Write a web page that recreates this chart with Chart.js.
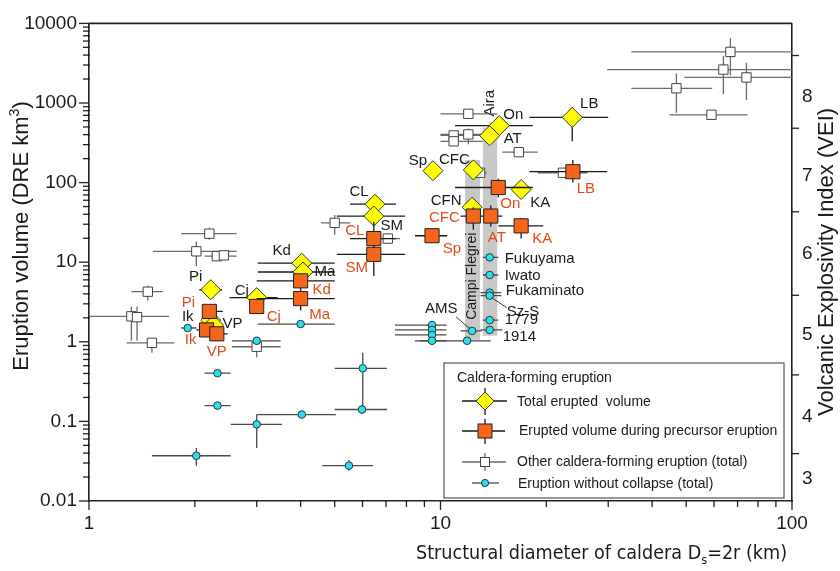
<!DOCTYPE html>
<html>
<head>
<meta charset="utf-8">
<script src="https://cdn.jsdelivr.net/npm/chart.js@4.4.1/dist/chart.umd.min.js"></script>
<style>
  html, body { margin: 0; padding: 0; background: #fff; }
  #wrap { width: 840px; height: 571px; position: relative; }
</style>
</head>
<body>
<div id="wrap"><canvas id="chart"></canvas></div>
<script>
// ---- axes ----
const xMin = 1, xMax = 100;
const yMin = 0.01, yMax = 10000;
const xTicks = [1, 10, 100];
const xTickLabels = ['1', '10', '100'];
const yTicks = [0.01, 0.1, 1, 10, 100, 1000, 10000];
const yTickLabels = ['0.01', '0.1', '1', '10', '100', '1000', '10000'];
// VEI scale on the right (volume where each class label sits, and class limits)
const veiLabels = ['3', '4', '5', '6', '7', '8'];
const veiLabelAt = [0.0192, 0.115, 1.22, 12.6, 122, 1210];
const veiBounds = [0.0394, 0.384, 3.84, 43, 482, 3948];

// ---- caldera-forming eruption, total erupted volume (yellow diamonds) ----
const totalNames = ['LB', 'On', 'AT', 'Sp', 'CFC', 'KA', 'CFN', 'CL', 'SM', 'Kd', 'Ma', 'Cj', 'Pi', 'Ik', 'VP'];
const totalD   = [23.7, 14.7, 13.8, 9.52, 12.4, 16.96, 12.3, 6.51, 6.46, 4.03, 4.06, 3.0, 2.22, 2.22, 2.26];
const totalV   = [659, 520, 388, 141, 144.5, 82, 49.1, 53.5, 38.0, 9.72, 7.53, 3.59, 4.51, 1.87, 1.62];
const totalDLo = [17.9, 11.0, null, null, null, null, null, 5.53, 5.07, 3.02, 3.02, 2.51, 2.06, null, null];
const totalDHi = [30.0, 18.3, null, null, null, null, null, 7.47, 7.93, 5.0, 5.0, 3.44, 2.39, null, null];
const totalVLo = [330, null, null, null, null, null, null, null, null, null, null, null, null, null, null];
const totalVHi = [875, null, null, null, null, null, null, null, null, null, null, null, null, null, null];

// ---- erupted volume during precursor eruption (orange squares) ----
const precNames = ['LB', 'On', 'AT', 'CFC', 'KA', 'Sp', 'CL', 'SM', 'Kd', 'Ma', 'Cj', 'Pi', 'Ik', 'VP'];
const precD   = [23.8, 14.6, 13.9, 12.4, 16.96, 9.46, 6.46, 6.46, 4.0, 4.0, 3.0, 2.20, 2.16, 2.31];
const precV   = [137, 86.8, 38.0, 38.0, 28.6, 21.5, 19.8, 12.55, 5.83, 3.49, 2.78, 2.41, 1.41, 1.26];
const precDLo = [17.9, 11.0, 13.6, 11.4, 14.6, 8.46, 5.53, 5.07, 3.0, 3.0, null, 2.11, 2.02, 2.11];
const precDHi = [29.8, 18.3, 15.0, 13.6, 19.6, 10.45, 7.47, 7.93, 5.0, 5.0, null, 2.40, 2.40, 2.48];
const precVLo = [100, 65.3, 27.8, 25.5, 19.8, null, 12.6, 6.7, null, 2.48, null, null, null, null];
const precVHi = [192, 112, 52, 49, 36, null, 32, 19.8, null, 5.83, null, null, null, null];

// ---- other caldera-forming eruptions, total (white squares) ----
const otherD   = [66.8, 63.8, 74.2, 46.9, 59.0, 12.0, 10.9, 10.9, 12.0, 16.7, 12.96, 22.3, 5.0, 7.08, 2.20, 2.02, 2.31, 2.42, 1.47, 1.32, 1.37, 1.51, 3.0];
const otherV   = [4385, 2630, 2094, 1531, 711, 731, 391, 330, 403, 241, 133, 133, 31.2, 19.8, 22.8, 13.7, 11.9, 12.2, 4.26, 2.09, 2.04, 0.97, 0.867];
const otherDLo = [34.9, 29.8, 49.4, 34.9, 44.8, 10.0, 10.0, 10.0, 10.0, 15.0, 12.6, 18.9, 4.57, 6.72, 1.83, 1.52, 2.13, null, 1.32, 1.0, null, 1.28, 2.55];
const otherDHi = [100, 100, 100, 59.3, 74.7, 14.5, 13.2, 13.2, 13.2, 18.9, 13.5, 26.2, 5.53, 7.67, 2.63, 2.63, 2.63, null, 1.62, 1.69, null, 1.75, 3.51];
const otherVLo = [2217, 1291, 1089, 753, null, null, null, null, 303, null, null, null, 22.2, 17, 19.2, 8.93, null, null, 3.30, 1.03, 1.03, 0.73, 0.634];
const otherVHi = [6530, 3916, 3206, 2344, null, null, null, null, 477, null, null, null, 39.1, 23, 27, 18.2, null, null, 5.06, 2.78, 2.78, 1.06, 0.867];

// ---- eruptions without collapse, total (cyan circles) ----
const noColNames = ['Fukuyama', 'Iwato', 'Fukaminato', 'Sz-S', '1779', '1914', 'AMS', '', '', '', '', '', '', '', '', '', '', '', '', '', '', '', ''];
const noColD   = [13.8, 13.8, 13.8, 13.8, 13.8, 13.8, 12.3, 11.9, 9.46, 9.46, 9.46, 9.46, 1.91, 3.0, 4.0, 2.32, 2.32, 6.01, 5.98, 4.03, 3.0, 2.02, 5.49];
const noColV   = [11.5, 6.91, 4.14, 3.80, 1.87, 1.41, 1.37, 1.03, 1.62, 1.41, 1.22, 1.03, 1.49, 1.03, 1.67, 0.403, 0.158, 0.464, 0.141, 0.122, 0.0918, 0.037, 0.0278];
const noColDLo = [13.2, 13.2, 13.0, 13.0, 13.2, 13.0, 11.4, 8.74, 7.42, 7.42, 7.42, 8.45, 1.83, 2.55, 3.02, 2.13, 2.13, 5.0, 5.0, 3.0, 2.53, 1.51, 4.6];
const noColDHi = [14.6, 14.6, 14.9, 14.9, 14.6, 15.0, 13.1, 13.9, 10.4, 10.4, 10.4, 10.4, 2.02, 3.51, 5.0, 2.53, 2.53, 7.04, 7.04, 5.04, 3.54, 2.53, 6.42];
const noColVLo = [null, null, null, null, null, null, null, null, null, null, null, null, null, null, null, 0.37, null, 0.141, 0.125, 0.11, 0.0464, 0.0278, 0.024];
const noColVHi = [null, null, null, null, null, null, null, null, null, null, null, null, null, null, null, 0.44, null, 0.73, 0.16, 0.135, 0.122, 0.0464, 0.033];

// ---- shaded diameter ranges ----
const bandNames = ['Campi Flegrei', 'Aira'];
const bandDLo = [11.75, 13.2];
const bandDHi = [12.96, 14.5];
const bandVLo = [1.06, 1.19];
const bandVHi = [192, 491];

// label offsets in px from the marker (layout only)
const totalLabelPos = { LB: [17, -14], On: [14, -11], AT: [23, 3], Sp: [-15, -10], CFC: [-19, -10], KA: [19, 13], CFN: [-26, -6],
  CL: [-16, -12], SM: [18, 10], Kd: [-20, -12], Ma: [22, 0], Cj: [-15, -7], Pi: [-15, -13], Ik: [-23, -3], VP: [19, -1] };
const precLabelPos = { LB: [13, 17], On: [12, 16], AT: [6, 22], CFC: [-29, 2], KA: [21, 13], Sp: [20, 13], CL: [-19, -8],
  SM: [-17, 14], Kd: [21, 9], Ma: [19, 16], Cj: [17, 10], Pi: [-21, -9], Ik: [-16, 10], VP: [0, 18] };
const noColLabelPos = { Fukuyama: [15, 1], Iwato: [15, 1], Fukaminato: [16, -2], 'Sz-S': [17, 16], '1779': [15, 0], '1914': [13, 7], AMS: [-47, -22] };

const FONT = "'Liberation Sans', Arial, Helvetica, sans-serif";
const RED = '#e2491c';
const INK = '#1a1a1a';

function pts(xs, ys) {
  return xs.map((x, i) => ({ x: x, y: ys[i] }));
}

// error bar sets, indexed like the datasets
const errSets = [
  { D: precD, V: precV, dLo: precDLo, dHi: precDHi, vLo: precVLo, vHi: precVHi, color: '#1a1a1a' },
  { D: totalD, V: totalV, dLo: totalDLo, dHi: totalDHi, vLo: totalVLo, vHi: totalVHi, color: '#1a1a1a' },
  { D: noColD, V: noColV, dLo: noColDLo, dHi: noColDHi, vLo: noColVLo, vHi: noColVHi, color: '#4a4a4a' },
  { D: otherD, V: otherV, dLo: otherDLo, dHi: otherDHi, vLo: otherVLo, vHi: otherVHi, color: '#6a6a6a' }
];

function line(ctx, x1, y1, x2, y2) {
  ctx.beginPath();
  ctx.moveTo(x1, y1);
  ctx.lineTo(x2, y2);
  ctx.stroke();
}

function diamond(ctx, x, y, r, fill) {
  ctx.beginPath();
  ctx.moveTo(x, y - r); ctx.lineTo(x + r, y); ctx.lineTo(x, y + r); ctx.lineTo(x - r, y);
  ctx.closePath();
  ctx.fillStyle = fill; ctx.fill();
  ctx.strokeStyle = '#333'; ctx.lineWidth = 1; ctx.stroke();
}

function square(ctx, x, y, h, fill, stroke) {
  ctx.fillStyle = fill; ctx.fillRect(x - h, y - h, 2 * h, 2 * h);
  ctx.strokeStyle = stroke; ctx.lineWidth = 1; ctx.strokeRect(x - h, y - h, 2 * h, 2 * h);
}

function dot(ctx, x, y, r) {
  ctx.beginPath(); ctx.arc(x, y, r, 0, Math.PI * 2);
  ctx.fillStyle = '#22e3ee'; ctx.fill();
  ctx.strokeStyle = '#333'; ctx.lineWidth = 1; ctx.stroke();
}

const extras = {
  id: 'extras',
  beforeDatasetsDraw(chart) {
    const { ctx, scales: { x, y } } = chart;
    ctx.save();
    bandNames.forEach((name, i) => {
      const l = x.getPixelForValue(bandDLo[i]), r = x.getPixelForValue(bandDHi[i]);
      const t = y.getPixelForValue(bandVHi[i]), b = y.getPixelForValue(bandVLo[i]);
      ctx.fillStyle = '#c8c8c8';
      ctx.fillRect(l, t, r - l, b - t);
      ctx.save();
      ctx.fillStyle = INK;
      ctx.font = '14px ' + FONT;
      ctx.textBaseline = 'middle';
      ctx.textAlign = 'left';
      if (i === 0) {
        ctx.translate((l + r) / 2, b - 20);
      } else {
        ctx.translate((l + r) / 2, t - 11);
        ctx.font = '15px ' + FONT;
      }
      ctx.rotate(-Math.PI / 2);
      ctx.fillText(name, 0, 0);
      ctx.restore();
    });
    ctx.restore();
  },
  beforeDatasetDraw(chart, args) {
    const s = errSets[args.index];
    if (!s) return;
    const { ctx, chartArea: a, scales: { x, y } } = chart;
    ctx.save();
    ctx.beginPath();
    ctx.rect(a.left, a.top, a.right - a.left, a.bottom - a.top);
    ctx.clip();
    ctx.strokeStyle = s.color;
    ctx.lineWidth = 1.3;
    s.D.forEach((d, i) => {
      const px = x.getPixelForValue(d), py = y.getPixelForValue(s.V[i]);
      if (s.dLo[i] != null) {
        line(ctx, x.getPixelForValue(s.dLo[i]), py, x.getPixelForValue(s.dHi[i]), py);
      }
      if (s.vLo[i] != null) {
        const hi = s.vHi[i] != null ? s.vHi[i] : s.V[i];
        line(ctx, px, y.getPixelForValue(s.vLo[i]), px, y.getPixelForValue(hi));
      }
    });
    ctx.restore();
  },
  afterDatasetsDraw(chart) {
    const { ctx, chartArea: a, scales: { x, y } } = chart;
    ctx.save();
    ctx.textBaseline = 'middle';
    ctx.font = '15px ' + FONT;

    // point labels
    ctx.textAlign = 'center';
    ctx.fillStyle = INK;
    totalNames.forEach((n, i) => {
      const o = totalLabelPos[n];
      ctx.fillText(n, x.getPixelForValue(totalD[i]) + o[0], y.getPixelForValue(totalV[i]) + o[1]);
    });
    ctx.fillStyle = RED;
    precNames.forEach((n, i) => {
      const o = precLabelPos[n];
      ctx.fillText(n, x.getPixelForValue(precD[i]) + o[0], y.getPixelForValue(precV[i]) + o[1]);
    });
    ctx.textAlign = 'left';
    ctx.fillStyle = INK;
    ctx.strokeStyle = '#333';
    ctx.lineWidth = 1;
    noColNames.forEach((n, i) => {
      if (!n) return;
      const o = noColLabelPos[n];
      const px = x.getPixelForValue(noColD[i]), py = y.getPixelForValue(noColV[i]);
      ctx.fillText(n, px + o[0], py + o[1]);
      if (n === 'Sz-S') line(ctx, px + 2, py + 2, px + 17, py + 12);
      if (n === 'AMS') line(ctx, px - 2, py - 2, px - 16, py - 14);
    });

    // top frame line
    ctx.strokeStyle = '#222';
    ctx.lineWidth = 1.6;
    line(ctx, a.left, a.top, a.right, a.top);

    // tick marks
    ctx.lineWidth = 1.3;
    for (let e = -2; e <= 4; e++) {
      const py = y.getPixelForValue(Math.pow(10, e));
      line(ctx, a.left - 10, py, a.left, py);
      if (e < 4) {
        for (let m = 2; m <= 9; m++) {
          const pm = y.getPixelForValue(m * Math.pow(10, e));
          line(ctx, a.left - 6, pm, a.left + 1, pm);
        }
      }
    }
    for (let e = 0; e <= 2; e++) {
      const px = x.getPixelForValue(Math.pow(10, e));
      line(ctx, px, a.bottom, px, a.bottom + 9);
      if (e < 2) {
        for (let m = 2; m <= 9; m++) {
          const pm = x.getPixelForValue(m * Math.pow(10, e));
          line(ctx, pm, a.bottom, pm, a.bottom + 6);
        }
      }
    }
    veiBounds.forEach(v => {
      const py = y.getPixelForValue(v);
      line(ctx, a.right, py, a.right + 7, py);
    });

    // axis titles
    ctx.fillStyle = INK;
    ctx.textBaseline = 'alphabetic';
    ctx.textAlign = 'left';
    // left
    ctx.save();
    ctx.translate(28, 236);
    ctx.rotate(-Math.PI / 2);
    ctx.font = '22px ' + FONT;
    const t1 = 'Eruption volume (DRE km';
    const w1 = ctx.measureText(t1).width;
    ctx.font = '14px ' + FONT;
    const w2 = ctx.measureText('3').width;
    ctx.font = '22px ' + FONT;
    const w3 = ctx.measureText(')').width;
    let sx = -(w1 + w2 + w3) / 2;
    ctx.fillText(t1, sx, 0);
    ctx.font = '14px ' + FONT;
    ctx.fillText('3', sx + w1, -9);
    ctx.font = '22px ' + FONT;
    ctx.fillText(')', sx + w1 + w2, 0);
    ctx.restore();
    // right
    ctx.save();
    ctx.translate(833, 262);
    ctx.rotate(-Math.PI / 2);
    ctx.font = '22px ' + FONT;
    ctx.textAlign = 'center';
    ctx.fillText('Volcanic Explosivity Index (VEI)', 0, 0);
    ctx.restore();
    // bottom
    ctx.save();
    const NARROW = "'Liberation Sans Narrow', 'DejaVu Sans Condensed', " + FONT;
    const p1 = 'Structural diameter of caldera D', p2 = 's', p3 = '=2r (km)';
    ctx.font = '20px ' + NARROW;
    const q1 = ctx.measureText(p1).width, q3 = ctx.measureText(p3).width;
    ctx.font = '13px ' + NARROW;
    const q2 = ctx.measureText(p2).width;
    const total = q1 + q2 + q3;
    const k = Math.min(1, 371 / total);
    ctx.translate(787 - total * k, 559);
    ctx.scale(k, 1);
    ctx.font = '20px ' + NARROW;
    ctx.fillText(p1, 0, 0);
    ctx.font = '13px ' + NARROW;
    ctx.fillText(p2, q1, 5);
    ctx.font = '20px ' + NARROW;
    ctx.fillText(p3, q1 + q2, 0);
    ctx.restore();

    // legend box
    ctx.fillStyle = '#fff';
    ctx.fillRect(444, 363, 340, 135);
    ctx.strokeStyle = '#555';
    ctx.lineWidth = 1.2;
    ctx.strokeRect(444, 363, 340, 135);
    ctx.fillStyle = INK;
    ctx.font = '14px ' + FONT;
    ctx.textBaseline = 'middle';
    ctx.fillText('Caldera-forming eruption', 457, 378);

    ctx.lineWidth = 1.3;
    ctx.strokeStyle = '#1a1a1a';
    line(ctx, 462, 401, 507, 401); line(ctx, 485, 388, 485, 415);
    diamond(ctx, 485, 401, 9, '#ffff00');
    ctx.strokeStyle = '#1a1a1a'; ctx.lineWidth = 1.3;
    line(ctx, 462, 431, 505, 431); line(ctx, 485, 419, 485, 444);
    square(ctx, 485, 431, 7, '#f5661a', '#222');
    ctx.strokeStyle = '#6a6a6a'; ctx.lineWidth = 1.3;
    line(ctx, 462, 462, 506, 462); line(ctx, 485, 453, 485, 471);
    square(ctx, 485, 462, 4.5, '#fff', '#444');
    ctx.strokeStyle = '#4a4a4a'; ctx.lineWidth = 1.3;
    line(ctx, 472, 483, 499, 483);
    dot(ctx, 485, 483, 3.6);

    ctx.fillStyle = INK;
    ctx.font = '14px ' + FONT;
    ctx.fillText('Total erupted  volume', 517, 402);
    ctx.fillText('Erupted volume during precursor eruption', 519, 431);
    ctx.fillText('Other caldera-forming eruption (total)', 517, 462);
    ctx.fillText('Eruption without collapse (total)', 518, 484);
    ctx.restore();
  }
};

Chart.defaults.font.family = FONT;
Chart.defaults.color = INK;

new Chart(document.getElementById('chart'), {
  type: 'scatter',
  data: {
    datasets: [
      { label: 'Erupted volume during precursor eruption', data: pts(precD, precV), pointStyle: 'rect', pointRadius: 10,
        backgroundColor: '#f5661a', borderColor: '#222', borderWidth: 1 },
      { label: 'Total erupted volume', data: pts(totalD, totalV), pointStyle: 'rectRot', pointRadius: 10,
        backgroundColor: '#ffff00', borderColor: '#333', borderWidth: 1 },
      { label: 'Eruption without collapse (total)', data: pts(noColD, noColV), pointStyle: 'circle', pointRadius: 3.8,
        backgroundColor: '#22e3ee', borderColor: '#333', borderWidth: 1 },
      { label: 'Other caldera-forming eruption (total)', data: pts(otherD, otherV), pointStyle: 'rect', pointRadius: 6.6,
        backgroundColor: '#ffffff', borderColor: '#444', borderWidth: 1 }
    ]
  },
  options: {
    responsive: true,
    maintainAspectRatio: false,
    animation: false,
    layout: { padding: { top: 15, left: 0, right: 0, bottom: 0 } },
    plugins: { legend: { display: false }, tooltip: { enabled: false } },
    scales: {
      x: {
        type: 'logarithmic', min: xMin, max: xMax,
        afterBuildTicks: ax => { ax.ticks = xTicks.map(v => ({ value: v })); },
        afterFit: ax => { ax.height = 70; },
        grid: { display: false, drawTicks: false },
        border: { display: true, color: '#222', width: 1.6 },
        ticks: { autoSkip: false, maxRotation: 0, padding: 11, color: INK, font: { size: 19 },
          callback: (v, i) => xTickLabels[i] }
      },
      y: {
        type: 'logarithmic', position: 'left', min: yMin, max: yMax,
        afterBuildTicks: ax => { ax.ticks = yTicks.map(v => ({ value: v })); },
        afterFit: ax => { ax.width = 89; },
        grid: { display: false, drawTicks: false },
        border: { display: true, color: '#222', width: 1.6 },
        ticks: { autoSkip: false, padding: 12, color: INK, font: { size: 19 },
          callback: (v, i) => yTickLabels[i] }
      },
      y2: {
        type: 'logarithmic', position: 'right', min: yMin, max: yMax,
        afterBuildTicks: ax => { ax.ticks = veiLabelAt.map(v => ({ value: v })); },
        afterFit: ax => { ax.width = 48; },
        grid: { display: false, drawTicks: false },
        border: { display: true, color: '#222', width: 1.6 },
        ticks: { autoSkip: false, padding: 10, color: INK, font: { size: 19 },
          callback: (v, i) => veiLabels[i] }
      }
    }
  },
  plugins: [extras]
});
</script>
</body>
</html>
